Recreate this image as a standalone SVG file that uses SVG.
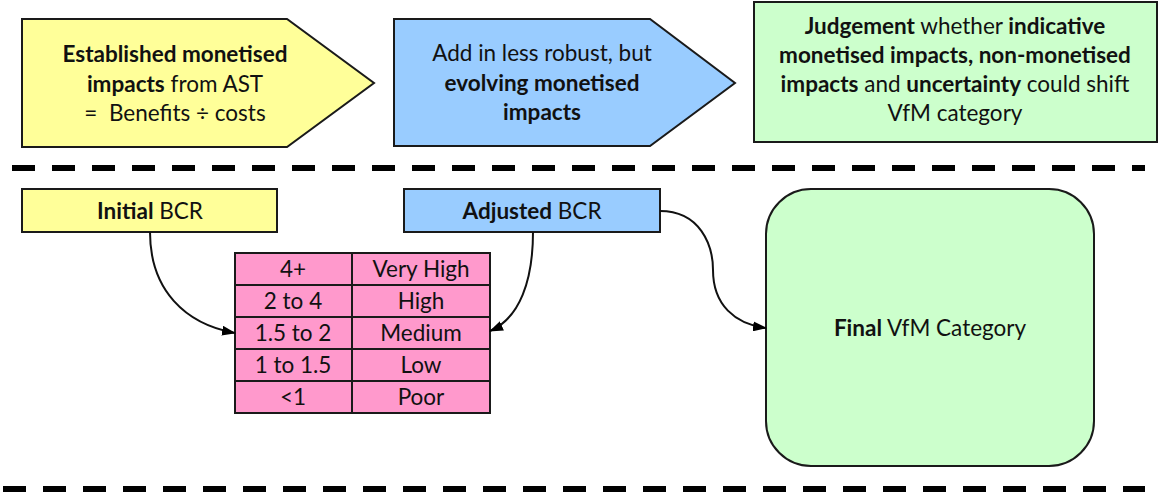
<svg xmlns="http://www.w3.org/2000/svg" width="1160" height="496" viewBox="0 0 1160 496">
<style>
.shape{stroke:#1a1a1a;stroke-width:2}
.y{fill:#FFFF99}.b{fill:#99CCFF}.g{fill:#CCFFCC}.p{fill:#FF99CC}
text{font-family:Lato,"Liberation Sans",sans-serif;font-size:22.5px;fill:#111;text-anchor:middle}
.bd{font-weight:bold}
.dash{stroke:#000;stroke-width:6;stroke-dasharray:23 17;fill:none}
.conn{stroke:#111;stroke-width:2;fill:none;marker-end:url(#ah)}
</style>
<defs>
<marker id="ah" viewBox="0 0 14 10" refX="13" refY="5" markerWidth="14" markerHeight="10" markerUnits="userSpaceOnUse" orient="auto">
<path d="M0,0 L14,5 L0,10 Z" fill="#000"/>
</marker>
</defs>
<rect width="1160" height="496" fill="#fff"/>
<g id="separators">
<line class="dash" x1="12" y1="168" x2="1145" y2="168"/>
<line class="dash" x1="3" y1="489" x2="1145" y2="489"/>
</g>
<g id="node-established">
<path class="shape y" d="M22,19 L287,19 L374,83 L287,147 L22,147 Z"/>
<text x="175" y="62"><tspan class="bd">Established monetised</tspan></text>
<text x="175" y="92"><tspan class="bd">impacts</tspan> from AST</text>
<text x="175" y="121">=&#160; Benefits ÷ costs</text>
</g>
<g id="node-evolving">
<path class="shape b" d="M394,19 L650,19 L735,83 L650,146 L394,146 Z"/>
<text x="542" y="61">Add in less robust, but</text>
<text x="542" y="91" class="bd">evolving monetised</text>
<text x="542" y="120" class="bd">impacts</text>
</g>
<g id="node-judgement">
<rect class="shape g" x="754" y="2" width="403" height="140"/>
<text x="955" y="34"><tspan class="bd">Judgement</tspan> whether <tspan class="bd">indicative</tspan></text>
<text x="955" y="63" class="bd">monetised impacts, non-monetised</text>
<text x="955" y="92"><tspan class="bd">impacts</tspan> and <tspan class="bd">uncertainty</tspan> could shift</text>
<text x="955" y="121">VfM category</text>
</g>
<g id="node-initial">
<rect class="shape y" x="22" y="189" width="255" height="43"/>
<text x="150" y="219"><tspan class="bd">Initial</tspan> BCR</text>
</g>
<g id="node-adjusted">
<rect class="shape b" x="404" y="189" width="256" height="43"/>
<text x="532" y="219"><tspan class="bd">Adjusted</tspan> BCR</text>
</g>
<g id="node-table">
<rect class="shape p" x="235" y="253" width="255" height="160"/>
<g class="shape">
<line x1="352" y1="253" x2="352" y2="413"/>
<line x1="235" y1="285" x2="490" y2="285"/>
<line x1="235" y1="317" x2="490" y2="317"/>
<line x1="235" y1="349" x2="490" y2="349"/>
<line x1="235" y1="381" x2="490" y2="381"/>
</g>
<text x="293" y="277">4+</text><text x="421" y="277">Very High</text>
<text x="293" y="309">2 to 4</text><text x="421" y="309">High</text>
<text x="293" y="341">1.5 to 2</text><text x="421" y="341">Medium</text>
<text x="293" y="373">1 to 1.5</text><text x="421" y="373">Low</text>
<text x="293" y="405">&lt;1</text><text x="421" y="405">Poor</text>
</g>
<g id="node-final">
<rect class="shape g" x="766" y="189" width="328" height="277" rx="45" ry="45"/>
<text x="930" y="336"><tspan class="bd">Final</tspan> VfM Category</text>
</g>
<g id="connectors">
<path class="conn" d="M150,232 C150,290 185,324 235,333"/>
<path class="conn" d="M533,232 C533,280 520,318 490,331"/>
<path class="conn" d="M660,211 C700,211 713,245 713,270 C713,305 735,324 766,328"/>
</g>
</svg>
